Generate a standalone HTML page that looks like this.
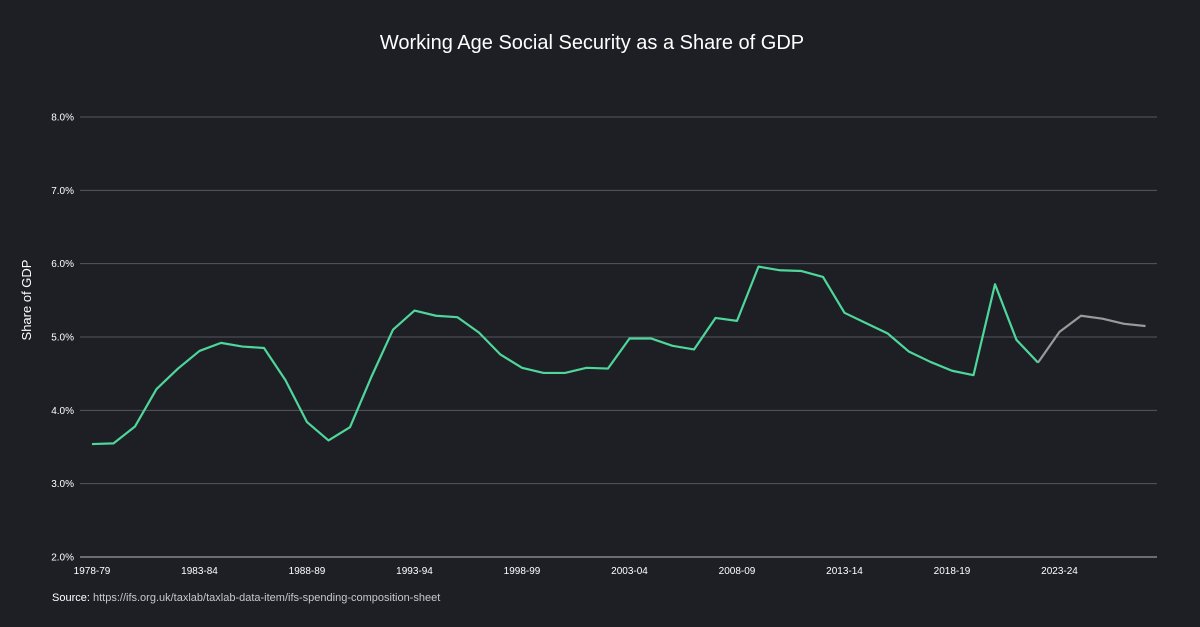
<!DOCTYPE html>
<html><head><meta charset="utf-8"><style>
body{margin:0;background:#1d1f25;}
svg{display:block;font-family:"Liberation Sans",sans-serif;}
</style></head><body>
<svg width="1200" height="627">
<rect width="1200" height="627" fill="#1d1f25"/>
<text x="592" y="49" text-anchor="middle" fill="#ffffff" font-size="20">Working Age Social Security as a Share of GDP</text>
<text transform="translate(31,300) rotate(-90)" text-anchor="middle" fill="#ffffff" font-size="13">Share of GDP</text>
<text x="52" y="601" fill="#ffffff" font-size="11"><tspan fill="#ffffff">Source:</tspan><tspan fill="#c8c8c8"> https://ifs.org.uk/taxlab/taxlab-data-item/ifs-spending-composition-sheet</tspan></text>
<g id="grid"></g><g id="lines"></g>
</svg>
<script>
const startYear = 1978;
const actualValues = [3.54,3.55,3.78,4.29,4.57,4.81,4.92,4.87,4.85,4.41,3.84,3.59,3.77,4.46,5.10,5.36,5.29,5.27,5.06,4.76,4.58,4.51,4.51,4.58,4.57,4.98,4.98,4.88,4.83,5.26,5.22,5.96,5.91,5.90,5.82,5.33,5.19,5.05,4.80,4.66,4.54,4.48,5.72,4.96,4.65];
const forecastValues = [4.65,5.07,5.29,5.25,5.18,5.15];
const yTicks = [2,3,4,5,6,7,8];
const xLabelYears = [1978,1983,1988,1993,1998,2003,2008,2013,2018,2023];
const NS='http://www.w3.org/2000/svg';
function xs(i){return 92+i*21.5;}
function ys(v){return 557-(v-2)*73.33;}
function lbl(y){return y+'-'+String((y+1)%100).padStart(2,'0');}
const grid=document.getElementById('grid'), lines=document.getElementById('lines');
yTicks.forEach(t=>{
  const l=document.createElementNS(NS,'line');
  l.setAttribute('x1',80);l.setAttribute('x2',1157);l.setAttribute('y1',ys(t));l.setAttribute('y2',ys(t));
  l.setAttribute('stroke',t===2?'#bbbbbb':'#55575c');l.setAttribute('stroke-width',1);
  
  
  grid.appendChild(l);
  const tx=document.createElementNS(NS,'text');
  tx.setAttribute('x',74);tx.setAttribute('y',ys(t)+3.5);tx.setAttribute('text-anchor','end');
  tx.setAttribute('fill','#ffffff');tx.setAttribute('font-size','10');
  tx.textContent=t.toFixed(1)+'%';
  
  
  grid.appendChild(tx);
});
xLabelYears.forEach(y=>{
  const tx=document.createElementNS(NS,'text');
  tx.setAttribute('x',xs(y-startYear));tx.setAttribute('y',574);tx.setAttribute('text-anchor','middle');
  tx.setAttribute('fill','#ffffff');tx.setAttribute('font-size','10');
  tx.textContent=lbl(y);
  
  
  grid.appendChild(tx);
});
function poly(vals,off,color,name){
  const p=document.createElementNS(NS,'polyline');
  p.setAttribute('points',vals.map((v,i)=>xs(i+off)+','+ys(v)).join(' '));
  p.setAttribute('fill','none');p.setAttribute('stroke',color);p.setAttribute('stroke-width',2.2);
  p.setAttribute('stroke-linejoin','round');
  
  
  lines.appendChild(p);
}
poly(forecastValues,actualValues.length-1,'#9a9a9a','forecast-line');
poly(actualValues,0,'#4fd69a','actual-line');
</script>
</body></html>
